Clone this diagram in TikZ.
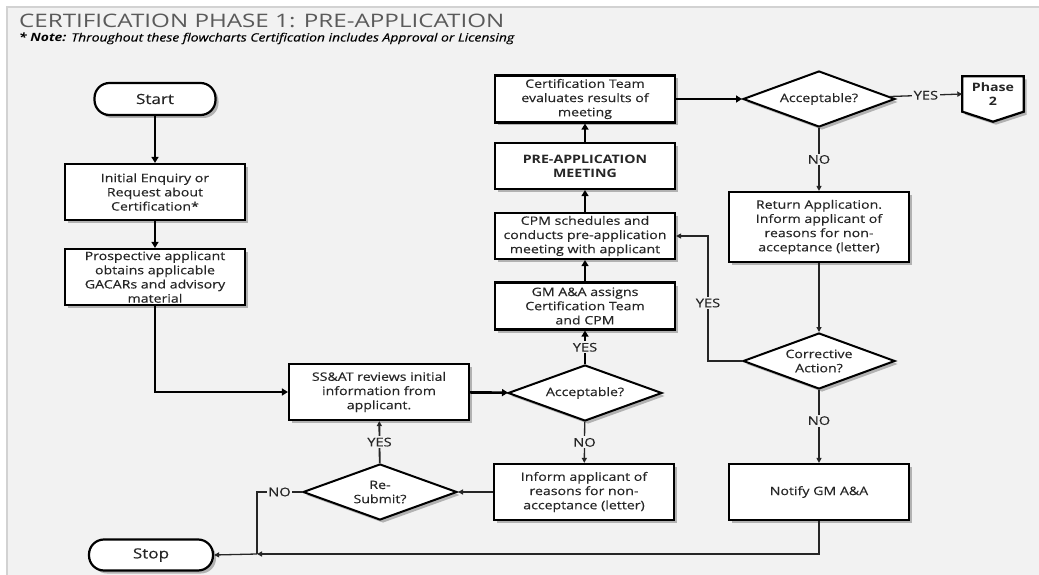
\documentclass[tikz,border=0pt]{standalone}
\usepackage{fontspec}
\setmainfont[FakeStretch=1.22,UprightFeatures={FakeBold=0.3},ItalicFeatures={FakeBold=0.3}]{Open Sans}
\newfontfamily\titlefont[FakeStretch=1.3]{Open Sans}
\usetikzlibrary{shapes.geometric,arrows.meta,shadows,backgrounds}

\definecolor{panel}{HTML}{F2F2F2}
\definecolor{rim}{HTML}{D2D2D2}
\definecolor{ink}{HTML}{262626}
\definecolor{heading}{HTML}{5A5A5A}
\newcommand{\boxfont}{\fontsize{11.6}{14.2}\selectfont}
\newcommand{\lblfont}{\fontsize{12}{13}\selectfont}

\begin{document}
\begin{tikzpicture}[x=1pt,y=-1pt,
    shade/.style={drop shadow={shadow xshift=3pt,shadow yshift=-3pt,fill=black!60,opacity=.45}},
    box/.style={draw=black,line width=2.2pt,fill=white,align=center,text=ink,font=\boxfont,
                minimum width=180pt,minimum height=56pt,inner sep=2pt,shade},
    term/.style={box,rounded corners=15pt,minimum width=121pt,minimum height=32pt,
                font=\fontsize{14}{16}\selectfont},
    decide/.style={diamond,draw=black,line width=2pt,fill=white,align=center,text=ink,font=\boxfont,
                minimum width=154pt,minimum height=56pt,inner sep=1pt,aspect=2.7,shade},
    main/.style={line width=2.6pt,-{Triangle[length=6pt,width=7pt]}},
    side/.style={line width=1.3pt,draw=ink,-{Triangle[length=5pt,width=5pt]}},
    lbl/.style={fill=panel,inner sep=1.5pt,text=ink,font=\lblfont}]
  \useasboundingbox (0,0) rectangle (1039,575);

  % heading
  \node (title) [anchor=base west,text=heading,font=\titlefont\fontsize{18.6}{20}\selectfont,
    inner sep=0pt,text depth=0pt] at (19,27.5) {CERTIFICATION PHASE 1: PRE-APPLICATION};
  \node (note) [anchor=base west,text=black,font=\fontsize{11.4}{12}\selectfont\itshape,
    inner sep=0pt,text height=7pt] at (19,41.5) 
    {\textbf{* Note:} Throughout these flowcharts Certification includes Approval or Licensing};

  % left column
  \node (start) [term] at (155,99) {Start};
  \node (init) [box] at (155,192) {Initial Enquiry or\\Request about\\Certification*};
  \node (pros) [box] at (155,277) {Prospective applicant\\obtains applicable\\GACARs and advisory\\material};
  \node (stop) [term,minimum width=124pt,minimum height=31pt] at (151,555) {Stop};

  % middle
  \node (ss) [box] at (379,392) {SS\&AT reviews initial\\information from\\applicant.};
  \node (resub) [decide] at (380,492) {Re-\\Submit?};
  \node (acc1) [decide] at (585,393) {Acceptable?};
  \node (inf) [box] at (584,492) {Inform applicant of\\reasons for non-\\acceptance (letter)};
  \node (gm) [box,minimum height=47pt] at (585,306) {GM A\&A assigns\\Certification Team\\and CPM};
  \node (cpm) [box,minimum height=46pt] at (585,236) {CPM schedules and\\conducts pre-application\\meeting with applicant};
  \node (pre) [box,minimum height=46pt,font=\boxfont\bfseries] at (585,166) {PRE-APPLICATION\\MEETING};
  \node (cert) [box,minimum height=47pt] at (585,99) {Certification Team\\evaluates results of\\meeting};

  % right
  \node (acc2) [decide,minimum width=152pt] at (819,99) {Acceptable?};
  \node (ph2) [align=center,text=ink,font=\boxfont\bfseries,minimum width=61pt,minimum height=35pt,inner sep=0pt]
    at (993,94) {Phase\\2};
  \node (ret) [box,minimum height=70pt] at (819,227) {Return Application.\\Inform applicant of\\reasons for non-\\acceptance (letter)};
  \node (corr) [decide,minimum width=152pt] at (819,361) {Corrective\\Action?};
  \node (notify) [box] at (819,492) {Notify GM A\&A};

  \coordinate (j) at (257,554);
  \coordinate (cy) at (708,303);

  \begin{pgfonlayer}{background}
    \fill[white] (0,0) rectangle (1039,575);
    \fill[panel] (7,7) rectangle (1039,575);
    \draw[rim,line width=1.5pt] (7,575) -- (7,7) -- (1039,7);
    \draw[line width=2.2pt,fill=white,shade] (ph2.north west) -- (ph2.north east) -- (ph2.south east)
      -- ([yshift=-10pt]ph2.south) -- (ph2.south west) -- cycle;
  \end{pgfonlayer}

  % main flow
  \draw[main] (start) -- (init);
  \draw[main] (init) -- (pros);
  \draw[main] (pros.south) |- (ss.west);
  \draw[main] (ss) -- (acc1);
  \draw[main] (acc1) -- node[lbl] {YES} (gm);
  \draw[main] (gm) -- (cpm);
  \draw[main] (cpm) -- (pre);
  \draw[main] (pre) -- (cert);
  \draw[main] (cert) -- (acc2);

  % branches
  \draw[side] (acc2) -- node[lbl] {YES} (ph2.west);
  \draw[side] (acc2) -- node[lbl] {NO} (ret);
  \draw[side] (ret) -- (corr);
  \draw[side] (corr.west) -| (cy) node[lbl] {YES} |- (cpm.east);
  \draw[side] (corr) -- node[lbl,pos=.42] {NO} (notify);
  \draw[side] (notify.south) |- (j);
  \draw[side] (j) -- (stop.east);
  \draw[side] (acc1) -- node[lbl] {NO} (inf);
  \draw[side] (inf) -- (resub);
  \draw[side,line width=1.8pt] (resub) -- node[lbl] {YES} (ss);
  \draw[line width=1.3pt,draw=ink] (resub.west) -- node[lbl] {NO} (j |- resub.west) -- (j);
\end{tikzpicture}
\end{document}
